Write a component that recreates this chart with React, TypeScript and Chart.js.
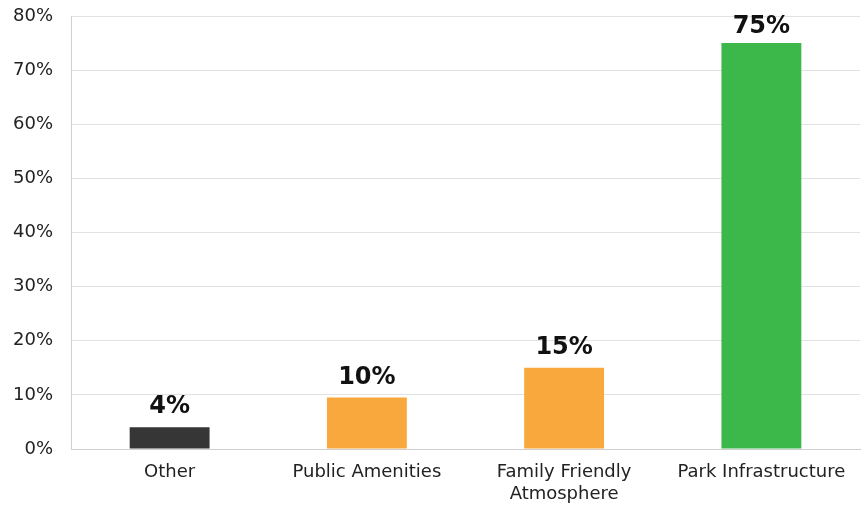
import React, { useEffect, useRef } from "react";
import { Chart, registerables } from "chart.js";

Chart.register(...registerables);

const categories: (string | string[])[] = ["Other", "Public Amenities", ["Family Friendly", "Atmosphere"], "Park Infrastructure"];
const values: number[] = [4, 9.5, 15, 75];
const valueLabels: string[] = ["4%", "10%", "15%", "75%"];
const barColors: string[] = ["#363636", "#f9a83e", "#f9a83e", "#3cb84a"];
const yTicks: number[] = [0, 10, 20, 30, 40, 50, 60, 70, 80];

const valueLabelPlugin = {
  id: "valueLabels",
  afterDatasetsDraw(chart: any) {
    const ctx = chart.ctx;
    const meta = chart.getDatasetMeta(0);
    const top = chart.chartArea.top;
    ctx.save();
    ctx.font = "bold 24px 'DejaVu Sans'";
    ctx.fillStyle = "#111";
    ctx.textAlign = "center";
    ctx.textBaseline = "alphabetic";
    meta.data.forEach((bar: any, i: number) => {
      const y = Math.max(bar.y - 14, top + 17);
      ctx.fillText(valueLabels[i], bar.x, y);
    });
    ctx.restore();
  },
};

export default function App() {
  const ref = useRef<HTMLCanvasElement | null>(null);
  useEffect(() => {
    document.body.style.margin = "0";
    const chart = new Chart(ref.current!, {
      type: "bar",
      data: {
        labels: categories as any,
        datasets: [
          {
            data: values,
            backgroundColor: barColors,
            barPercentage: 0.5,
            categoryPercentage: 0.81,
          },
        ],
      },
      options: {
        animation: false,
        responsive: false,
        layout: { padding: { top: 16, right: 6, left: 12, bottom: 0 } },
        plugins: { legend: { display: false }, tooltip: { enabled: false } },
        scales: {
          x: {
            grid: { display: false },
            border: { color: "#d0d0d0", width: 1 },
            afterFit: (axis: any) => {
              axis.height = 59;
            },
            ticks: {
              color: "#222",
              font: { family: "'DejaVu Sans'", size: 18, lineHeight: 1.2 },
              padding: 5,
              maxRotation: 0,
            },
          },
          y: {
            min: 0,
            max: 80,
            afterBuildTicks: (axis: any) => {
              axis.ticks = yTicks.map((v) => ({ value: v }));
            },
            afterFit: (axis: any) => {
              axis.paddingTop = 0;
              axis.paddingBottom = 0;
              axis.width = 59;
            },
            grid: { color: "#e2e2e2", drawTicks: false },
            border: { color: "#d0d0d0", width: 1 },
            ticks: {
              color: "#222",
              font: { family: "'DejaVu Sans'", size: 18 },
              padding: 18,
              callback: (v: any) => v + "%",
            },
          },
        },
      },
      plugins: [valueLabelPlugin],
    });
    return () => chart.destroy();
  }, []);
  return (
    <div style={{ width: 866, height: 508, background: "#fff" }}>
      <canvas ref={ref} width={866} height={508} />
    </div>
  );
}
